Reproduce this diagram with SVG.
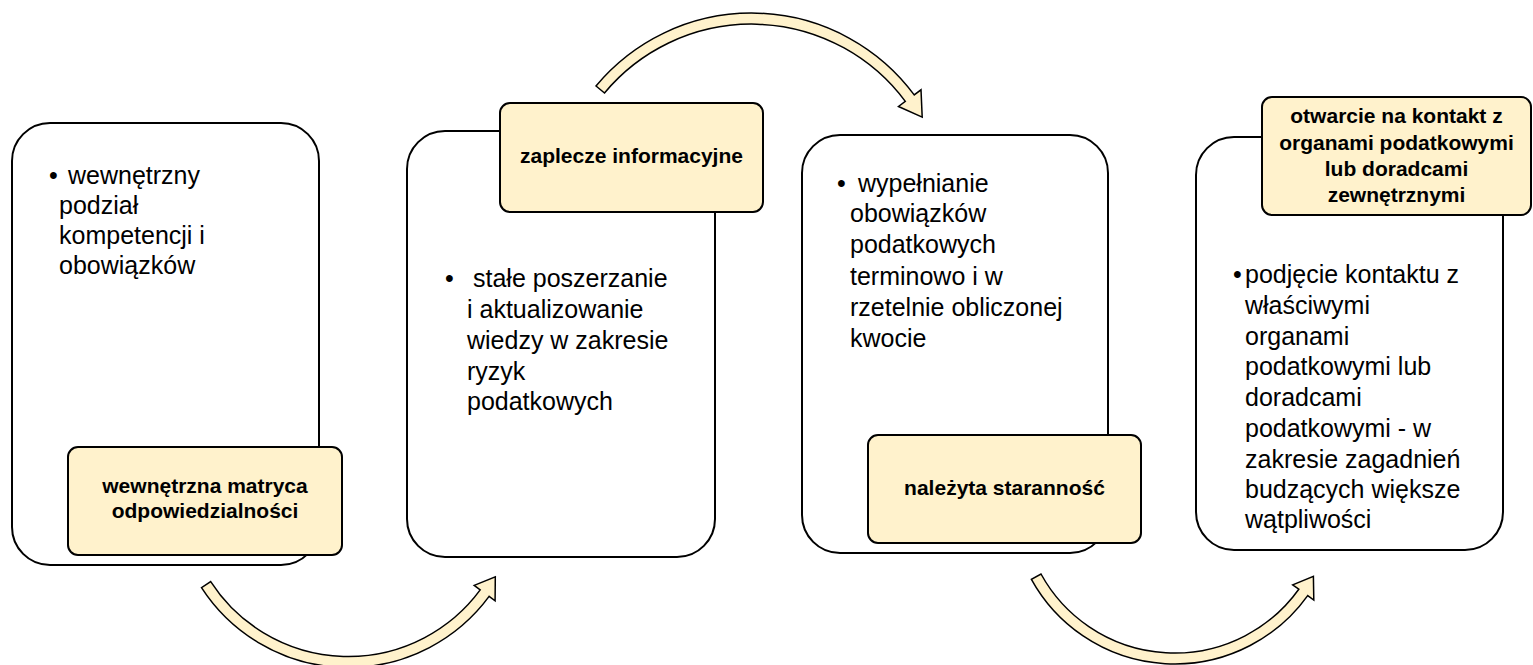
<svg xmlns="http://www.w3.org/2000/svg" width="1533" height="665" viewBox="0 0 1533 665">
<style>
.box{fill:#ffffff;stroke:#000000;stroke-width:2}
.lbl{fill:#FFF2CC;stroke:#000000;stroke-width:2}
.arr{fill:#FFF2CC;stroke:#000000;stroke-width:1.5;stroke-linejoin:miter}
.body{font-family:"Liberation Sans",Arial,sans-serif;font-size:25px;fill:#000000}
.lt{font-family:"Liberation Sans",Arial,sans-serif;font-size:21px;font-weight:bold;fill:#000000;text-anchor:middle}
</style>
<rect width="1533" height="665" fill="#ffffff"/>
<g id="connectors">
<path class="arr" d="M596.0,86.0 A202.5,202.5 0 0 1 914.2,94.9 L921.0,89.8 L922.2,117.1 L898.5,106.5 L905.3,101.4 A191.5,191.5 0 0 0 604.5,93.0 Z"/>
<path class="arr" d="M201.5,587.6 A174.9,174.9 0 0 0 489.1,596.4 L495.1,600.8 L495.3,576.8 L474.2,585.4 L480.2,589.9 A163.9,163.9 0 0 1 210.7,581.6 Z"/>
<path class="arr" d="M1031.4,579.4 A163.6,163.6 0 0 0 1307.7,595.6 L1313.8,600.0 L1313.4,576.3 L1292.7,584.9 L1298.8,589.2 A152.6,152.6 0 0 1 1041.0,574.0 Z"/>
</g>
<g id="node1">
<rect class="box" x="12" y="123" width="307" height="442" rx="38"/>
<text class="body" x="49" y="184">•</text>
<text class="body"><tspan x="68" y="184">wewnętrzny</tspan><tspan x="59" y="214">podział</tspan><tspan x="59" y="244">kompetencji i</tspan><tspan x="59" y="274">obowiązków</tspan></text>
<rect class="lbl" x="68" y="447" width="274" height="108" rx="10"/>
<text class="lt"><tspan x="205" y="493">wewnętrzna matryca</tspan><tspan x="205" y="518">odpowiedzialności</tspan></text>
</g>
<g id="node2">
<rect class="box" x="407" y="131" width="308" height="426" rx="38"/>
<text class="body" x="445" y="287">•</text>
<text class="body"><tspan x="473" y="287">stałe poszerzanie</tspan><tspan x="467" y="318">i aktualizowanie</tspan><tspan x="467" y="349">wiedzy w zakresie</tspan><tspan x="467" y="380">ryzyk</tspan><tspan x="467" y="410">podatkowych</tspan></text>
<rect class="lbl" x="500" y="103" width="263" height="109" rx="10"/>
<text class="lt" x="631.5" y="163">zaplecze informacyjne</text>
</g>
<g id="node3">
<rect class="box" x="802" y="135" width="306" height="418" rx="38"/>
<text class="body" x="837" y="192">•</text>
<text class="body"><tspan x="858" y="192">wypełnianie</tspan><tspan x="850" y="222">obowiązków</tspan><tspan x="850" y="253">podatkowych</tspan><tspan x="850" y="285">terminowo i w</tspan><tspan x="850" y="316">rzetelnie obliczonej</tspan><tspan x="850" y="347">kwocie</tspan></text>
<rect class="lbl" x="868" y="435" width="273" height="108" rx="10"/>
<text class="lt" x="1004.5" y="495">należyta staranność</text>
</g>
<g id="node4">
<rect class="box" x="1196" y="137" width="307" height="413" rx="38"/>
<text class="body" x="1233" y="283">•</text>
<text class="body"><tspan x="1245" y="283">podjęcie kontaktu z</tspan><tspan x="1245" y="314">właściwymi</tspan><tspan x="1245" y="345">organami</tspan><tspan x="1245" y="375">podatkowymi lub</tspan><tspan x="1245" y="406">doradcami</tspan><tspan x="1245" y="437">podatkowymi - w</tspan><tspan x="1245" y="468">zakresie zagadnień</tspan><tspan x="1245" y="498">budzących większe</tspan><tspan x="1245" y="528">wątpliwości</tspan></text>
<rect class="lbl" x="1262" y="97" width="269" height="118" rx="10"/>
<text class="lt"><tspan x="1396.5" y="123">otwarcie na kontakt z</tspan><tspan x="1396.5" y="150">organami podatkowymi</tspan><tspan x="1396.5" y="176">lub doradcami</tspan><tspan x="1396.5" y="202">zewnętrznymi</tspan></text>
</g>
</svg>
